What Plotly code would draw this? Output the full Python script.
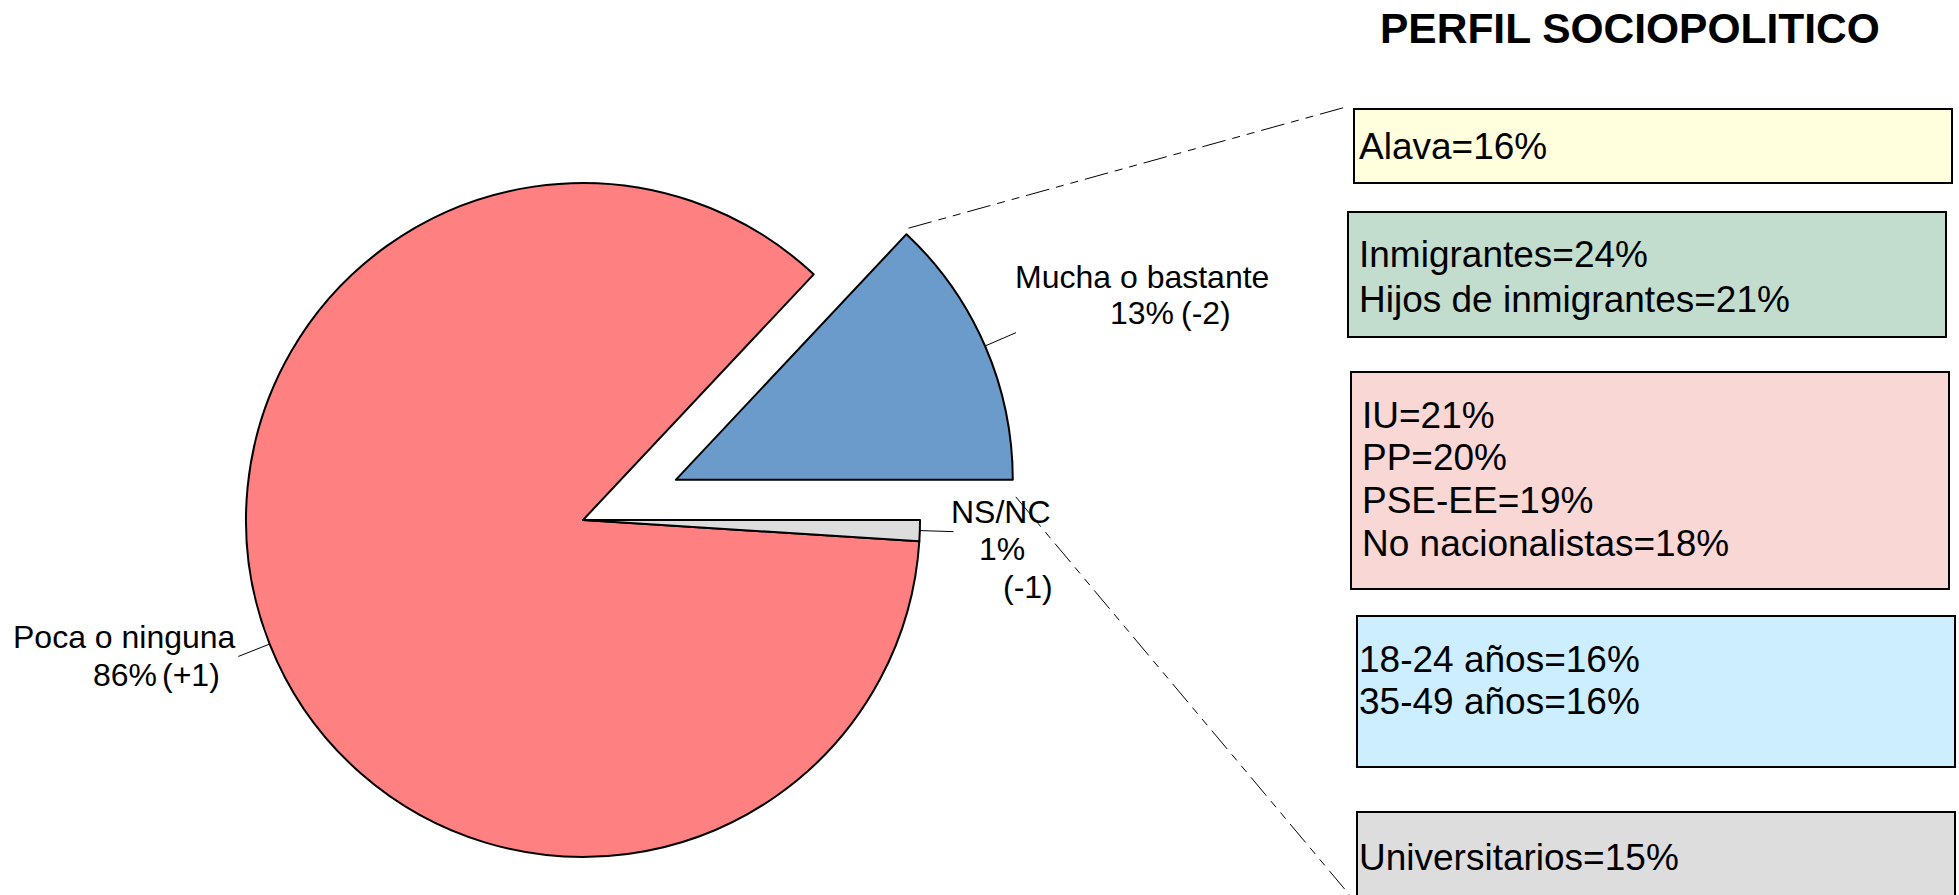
import math
import plotly.graph_objects as go

# ---------------- data ----------------
categories = ["Mucha o bastante", "Poca o ninguna", "NS/NC"]
values = [13, 86, 1]
changes = ["(-2)", "(+1)", "(-1)"]
slice_colors = ["#6A9BCB", "#FF8080", "#DDDDDD"]
pull_blue = 0.30

profile_title = "PERFIL SOCIOPOLITICO"
profile_groups = [
    ["Alava=16%"],
    ["Inmigrantes=24%", "Hijos de inmigrantes=21%"],
    ["IU=21%", "PP=20%", "PSE-EE=19%", "No nacionalistas=18%"],
    ["18-24 años=16%", "35-49 años=16%"],
    ["Universitarios=15%"],
]
profile_fills = ["#FFFFDD", "#C2DDCD", "#F9D7D5", "#CCEEFF", "#DDDDDD"]

# ---------------- layout geometry (pixels) ----------------
W, H = 1959, 895
FONT = "Liberation Sans, Arial, sans-serif"
C1 = (583.0, 520.0)   # pie centre
R = 337.0             # pie radius
DASH = "24px,7px,8px,7px,8px,7px"

def px(x):
    return x / W

def py(y):
    return 1 - y / H

total = sum(values)
fracs = [v / total for v in values]
starts, acc = [], 0.0
for f in fracs:
    starts.append(acc * 360)
    acc += f
mids = [starts[i] + fracs[i] * 180 for i in range(len(values))]

# plotly: with counterclockwise direction the first slice ENDS at `rotation`
# (measured clockwise from 12 o'clock); we want it to start at 3 o'clock.
rot = 90 - fracs[0] * 360

# exploded centre of the first slice
m0 = math.radians(mids[0])
C2 = (C1[0] + pull_blue * R * math.cos(m0), C1[1] - pull_blue * R * math.sin(m0))

def domain(c):
    return dict(x=[px(c[0] - R), px(c[0] + R)], y=[py(c[1] + R), py(c[1] - R)])

TRANSP = "rgba(0,0,0,0)"

fig = go.Figure()
# main pie (first slice left empty, it is drawn exploded below)
fig.add_trace(go.Pie(
    labels=categories, values=values, sort=False, direction="counterclockwise",
    rotation=rot, textinfo="none", domain=domain(C1), showlegend=False,
    marker=dict(colors=[TRANSP] + slice_colors[1:],
                line=dict(color="black", width=[0, 2, 2])),
))
# exploded slice
fig.add_trace(go.Pie(
    labels=[categories[0], "resto"], values=[values[0], total - values[0]], sort=False,
    direction="counterclockwise", rotation=rot, textinfo="none", domain=domain(C2),
    showlegend=False, hoverinfo="skip",
    marker=dict(colors=[slice_colors[0], TRANSP], line=dict(color="black", width=[2, 0])),
))

shapes = []
annotations = []

def text(t, x, baseline, size, anchor="left", bold=False):
    annotations.append(dict(
        text=f"<b>{t}</b>" if bold else t, x=px(x), y=py(baseline - 0.3465 * size),
        xref="paper", yref="paper", xanchor=anchor, yanchor="middle", showarrow=False,
        borderwidth=0, borderpad=0, font=dict(family=FONT, size=size, color="black"),
    ))

# leader lines from the slice edge outward
for i in range(len(values)):
    c = C2 if i == 0 else C1
    a = math.radians(mids[i])
    x0, y0 = c[0] + R * math.cos(a), c[1] - R * math.sin(a)
    x1, y1 = c[0] + 1.1 * R * math.cos(a), c[1] - 1.1 * R * math.sin(a)
    shapes.append(dict(type="line", xref="paper", yref="paper",
                       x0=px(x0), y0=py(y0), x1=px(x1), y1=py(y1),
                       line=dict(color="black", width=1)))

# pie labels: (name centre, baseline), (pct centre, baseline), (change x, baseline, anchor)
label_pos = [
    ((1142, 288), (1142, 324), (1181, 324, "left")),
    ((125, 648), (125, 686), (162, 686, "left")),
    ((1001, 523), (1002, 560), (1028, 598, "center")),
]
LS = 32
for i, (n, p, ch) in enumerate(label_pos):
    text(categories[i], n[0], n[1], LS, "center")
    text(f"{values[i]}%", p[0], p[1], LS, "center")
    text(changes[i], ch[0], ch[1], LS, ch[2])

# dashed connector lines from the exploded slice to the profile boxes
a_end = math.radians(starts[0] + fracs[0] * 360)
apex = (C2[0] + R * math.cos(a_end), C2[1] - R * math.sin(a_end))
corner = (C2[0] + R, C2[1])
shapes.append(dict(type="line", xref="paper", yref="paper",
                   x0=px(apex[0] + 2), y0=py(apex[1] - 6), x1=px(1346), y1=py(107),
                   line=dict(color="black", width=1, dash=DASH)))
shapes.append(dict(type="line", xref="paper", yref="paper",
                   x0=px(corner[0] + 3), y0=py(corner[1] + 17), x1=px(1358), y1=py(905),
                   line=dict(color="black", width=1, dash=DASH)))

# profile boxes
boxes = [(1354, 109, 1952, 183), (1348, 212, 1946, 337), (1351, 372, 1949, 589),
         (1357, 616, 1955, 767), (1357, 812, 1955, 915)]
text_x = [1359, 1359, 1362, 1359, 1359]
baselines = [[159], [267, 312], [428, 470, 513, 556], [672, 714], [870]]
for b, fill, lines, tx, bl in zip(boxes, profile_fills, profile_groups, text_x, baselines):
    shapes.append(dict(type="rect", xref="paper", yref="paper",
                       x0=px(b[0]), y0=py(b[3]), x1=px(b[2]), y1=py(b[1]),
                       fillcolor=fill, line=dict(color="black", width=2), layer="below"))
    for t, y in zip(lines, bl):
        text(t, tx, y, 37)

text(profile_title, 1630, 43, 42.5, "center", bold=True)

fig.update_layout(
    width=W, height=H, margin=dict(l=0, r=0, t=0, b=0),
    paper_bgcolor="white", plot_bgcolor="white", showlegend=False,
    shapes=shapes, annotations=annotations,
)
fig.write_html(
    "out.html",
    config={"displayModeBar": False},
    post_script="document.body.style.margin='0px';document.documentElement.style.overflow='hidden';",
)
